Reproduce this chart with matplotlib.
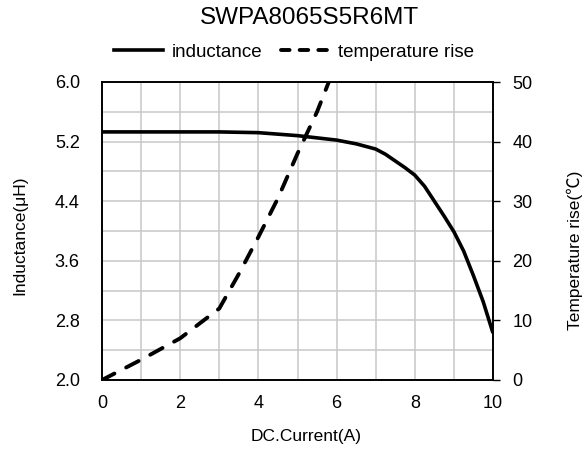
import numpy as np
import matplotlib
matplotlib.use("Agg")
import matplotlib.pyplot as plt
from matplotlib.lines import Line2D

plt.rcParams['font.family'] = ['Liberation Sans', 'DejaVu Sans']

# data
current = [0, 1, 2, 3, 4, 4.5, 5, 5.5, 6, 6.5, 7, 7.25, 7.5, 7.75, 8, 8.25, 8.5, 8.75, 9, 9.25, 9.5, 9.75, 10]
inductance = [5.33, 5.33, 5.33, 5.33, 5.32, 5.30, 5.28, 5.25, 5.22, 5.17, 5.10, 5.03, 4.94, 4.85,
              4.75, 4.60, 4.40, 4.20, 3.99, 3.73, 3.40, 3.05, 2.63]

temp_current = [0, 1, 2, 3, 3.5, 4, 4.5, 5, 5.5, 5.8]
temp_rise = [0, 3.4, 7.0, 12.0, 17.8, 24.0, 30.5, 38.0, 45.0, 50.0]

x_labels = [0, 2, 4, 6, 8, 10]
L_labels = [2.0, 2.8, 3.6, 4.4, 5.2, 6.0]
T_labels = [0, 10, 20, 30, 40, 50]

W, H = 584, 457
fig = plt.figure(figsize=(W / 100, H / 100), dpi=100)
ax = fig.add_axes([102 / W, 1 - 380 / H, (493 - 102) / W, (380 - 82) / H])
ax2 = ax.twinx()

gridc = '#c8c8c8'
ax.set_xlim(0, 10)
ax.set_ylim(2, 6)
ax.set_xticks(x_labels)
ax.set_xticks(np.arange(0, 11, 1), minor=True)
ax.set_yticks(L_labels)
ax.set_yticks(np.arange(2.0, 6.01, 0.4), minor=True)
ax.set_yticklabels([f"{v:.1f}" for v in L_labels])
ax.grid(True, which='both', color=gridc, linewidth=1.1)
ax.set_axisbelow(True)
ax.tick_params(which='both', length=0, labelsize=13)
ax.tick_params(axis='x', pad=11)
ax.tick_params(axis='y', pad=16)

l1, = ax.plot(current, inductance, color='black', lw=2.6, solid_capstyle='butt',
              solid_joinstyle='round', zorder=3)

ax2.set_ylim(0, 50)
ax2.set_yticks(T_labels)
ax2.tick_params(axis='y', length=5, width=1, direction='out', labelsize=13, pad=9)
l2, = ax2.plot(temp_current, temp_rise, color='black', lw=2.8, dashes=(3.6, 3.4),
               dash_capstyle='round', zorder=3)

for a in (ax, ax2):
    for s in a.spines.values():
        s.set_color('black')
        s.set_linewidth(1.2)

fig.text(309 / W, 1 - 18 / H, 'SWPA8065S5R6MT', ha='center', va='center', fontsize=17.5)
fig.text(306 / W, 1 - 437 / H, 'DC.Current(A)', ha='center', va='center', fontsize=12.5)
fig.text(20 / W, 1 - 235 / H, 'Inductance(μH)', ha='center', va='center', rotation=90, fontsize=12.5)
fig.text(575 / W, 1 - 250 / H, 'Temperature rise(℃)', ha='center', va='center', rotation=90,
         fontsize=12.5, family=['Liberation Sans', 'Noto Sans CJK SC', 'DejaVu Sans'])

h1 = Line2D([], [], color='black', lw=2.6)
h2 = Line2D([], [], color='black', lw=2.8, dashes=(2.2, 2.6), dash_capstyle='round')
fig.legend([h1, h2], ['inductance', 'temperature rise'], loc='center',
           bbox_to_anchor=(294 / W, 1 - 52 / H), ncol=2, frameon=False, fontsize=13.5,
           handlelength=2.6, handletextpad=0.45, columnspacing=1.0)

fig.savefig('out.png', dpi=100)
